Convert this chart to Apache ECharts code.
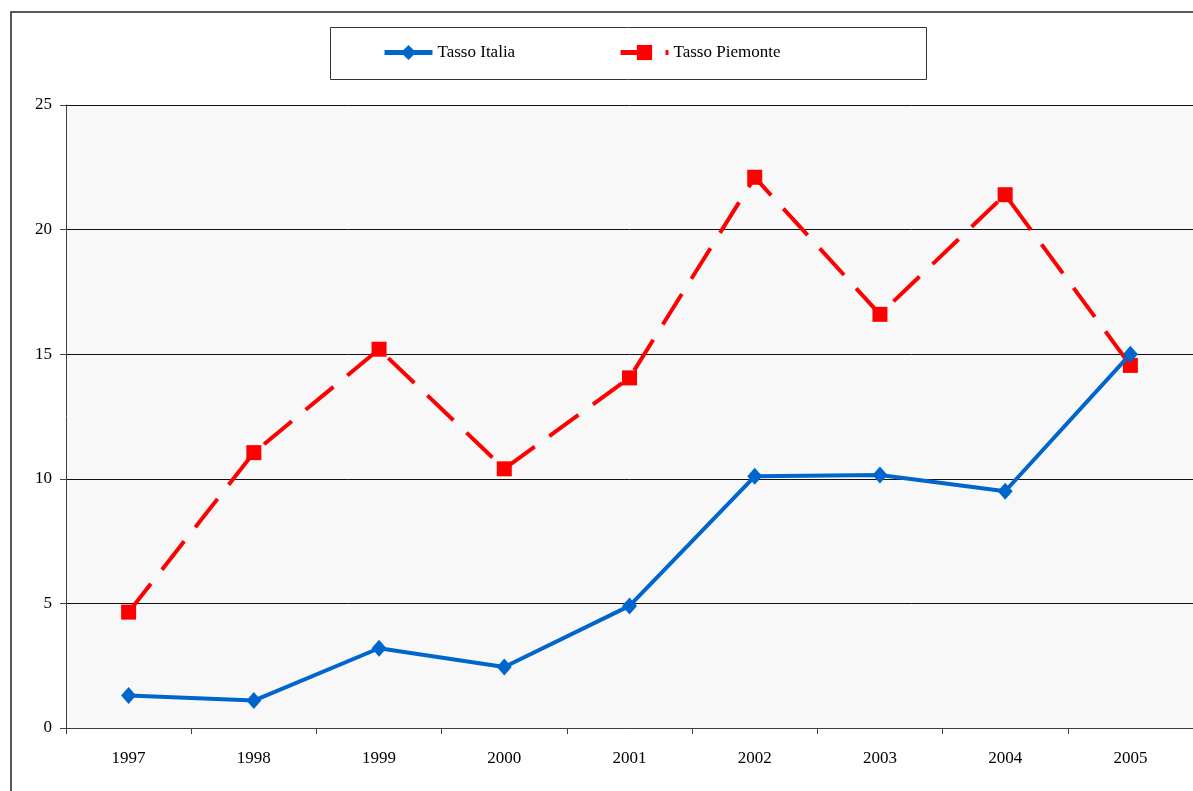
<!DOCTYPE html>
<html>
<head>
<meta charset="utf-8">
<script src="https://cdn.jsdelivr.net/npm/echarts@6/dist/echarts.min.js"></script>
<style>
  html, body { margin: 0; padding: 0; background: #ffffff; }
  #chart { width: 1193px; height: 791px; }
</style>
</head>
<body>
<div id="chart"></div>
<script>
// Years on the category axis
const years = ['1997', '1998', '1999', '2000', '2001', '2002', '2003', '2004', '2005'];
// Rate series
const tassoItalia = [1.3, 1.1, 3.2, 2.45, 4.9, 10.1, 10.15, 9.5, 15.0];
const tassoPiemonte = [4.65, 11.05, 15.2, 10.4, 14.05, 22.1, 16.6, 21.4, 14.55];
// Value axis range
const yMin = 0;
const yMax = 25;
const yStep = 5;

const serif = '"Liberation Serif", "DejaVu Serif", serif';
const blue = '#0066cc';
const red = '#ff0000';

const chart = echarts.init(document.getElementById('chart'), null, { renderer: 'canvas' });

const legendCommon = {
  top: 44,
  padding: 0,
  itemWidth: 48,
  itemHeight: 19,
  itemGap: 0,
  selectedMode: false,
  lineStyle: { width: 5 },
  textStyle: { fontFamily: serif, fontSize: 17, color: '#000' }
};

chart.setOption({
  animation: false,
  backgroundColor: '#ffffff',
  graphic: [
    {
      type: 'rect',
      z: -10,
      shape: { x: 11, y: 12, width: 1300, height: 900 },
      style: { fill: 'none', stroke: '#222', lineWidth: 1.5 }
    },
    {
      type: 'rect',
      z: -5,
      shape: { x: 330.5, y: 27.5, width: 596, height: 52 },
      style: { fill: '#ffffff', stroke: '#333', lineWidth: 1 }
    }
  ],
  legend: [
    Object.assign({}, legendCommon, {
      data: [{ name: 'Tasso Italia' }],
      left: 382
    }),
    Object.assign({}, legendCommon, {
      data: [{ name: 'Tasso Piemonte', lineStyle: { type: [31, 14], width: 5 } }],
      left: 618
    })
  ],
  grid: {
    left: 66,
    top: 105,
    right: 0,
    bottom: 63,
    show: true,
    backgroundColor: '#f8f8f8',
    borderWidth: 0
  },
  xAxis: {
    type: 'category',
    data: years,
    boundaryGap: true,
    axisLine: { show: true, lineStyle: { color: '#404040', width: 1 } },
    axisTick: { show: true, length: 6, lineStyle: { color: '#404040' } },
    axisLabel: { fontFamily: serif, fontSize: 17, color: '#000', margin: 22 },
    splitLine: { show: false }
  },
  yAxis: {
    type: 'value',
    min: yMin,
    max: yMax,
    interval: yStep,
    axisLine: { show: true, lineStyle: { color: '#404040', width: 1 } },
    axisTick: { show: true, length: 6, lineStyle: { color: '#404040' } },
    axisLabel: { fontFamily: serif, fontSize: 17, color: '#000', margin: 14 },
    splitLine: { show: true, lineStyle: { color: '#111', width: 1 } }
  },
  series: [
    {
      name: 'Tasso Italia',
      type: 'line',
      data: tassoItalia,
      symbol: 'diamond',
      symbolSize: [15, 17],
      showAllSymbol: true,
      lineStyle: { color: blue, width: 4 },
      itemStyle: { color: blue },
      z: 3
    },
    {
      name: 'Tasso Piemonte',
      type: 'line',
      data: tassoPiemonte,
      symbol: 'rect',
      symbolSize: 15,
      showAllSymbol: true,
      lineStyle: { color: red, width: 4, type: [36, 18], cap: 'butt' },
      itemStyle: { color: red },
      z: 2
    }
  ]
});
</script>
</body>
</html>
